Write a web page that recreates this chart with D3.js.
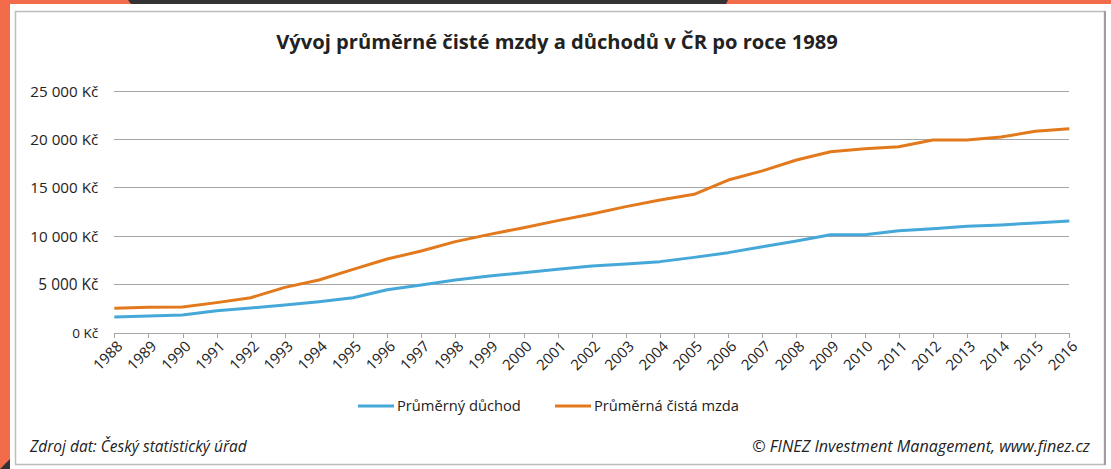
<!DOCTYPE html>
<html><head><meta charset="utf-8">
<script src="https://cdn.jsdelivr.net/npm/d3@7/dist/d3.min.js"></script>
<style>body{margin:0;background:#fff}svg{display:block}text{font-family:"Open Sans",sans-serif;fill:#222}</style>
</head><body><svg id="c" width="1111" height="469"></svg>
<script>
const years = [1988,1989,1990,1991,1992,1993,1994,1995,1996,1997,1998,1999,2000,2001,2002,2003,2004,2005,2006,2007,2008,2009,2010,2011,2012,2013,2014,2015,2016];
const pension = [1600,1710,1810,2260,2530,2840,3190,3600,4420,4910,5430,5840,6190,6530,6880,7090,7330,7770,8260,8860,9460,10120,10120,10530,10740,10980,11120,11330,11530];
const wage = [2510,2620,2640,3090,3600,4670,5430,6530,7600,8430,9400,10150,10840,11570,12260,13020,13700,14290,15770,16720,17840,18700,19010,19220,19910,19910,20220,20810,21080];
const yTicks = [0,5000,10000,15000,20000,25000];
const seriesNames = ["Průměrný důchod","Průměrná čistá mzda"];
const titleText = "Vývoj průměrné čisté mzdy a důchodů v ČR po roce 1989";
const sourceText = "Zdroj dat: Český statistický úřad";
const copyText = "© FINEZ Investment Management, www.finez.cz";

const svg = d3.select("#c");
function fit(sel, w){ sel.style("font-size","100px"); const L = sel.node().getComputedTextLength(); sel.style("font-size",(100*w/L)+"px"); return sel; }

// frame
svg.append("rect").attr("width",1111).attr("height",469).attr("fill","#F26C4C");
svg.append("path").attr("d","M128,0 L728,0 L726,4 L131,4 Z").attr("fill","#333");
svg.append("rect").attr("x",10).attr("y",4).attr("width",1101).attr("height",465).attr("fill","#fff");
svg.append("path").attr("d","M10,459 L10,469 L0,469 Z").attr("fill","#333");
svg.append("rect").attr("x",15.5).attr("y",11.5).attr("width",1089).attr("height",453).attr("fill","#fff").attr("stroke","#bdbdbd").attr("stroke-width",1.5);
svg.append("line").attr("x1",1105).attr("x2",1105).attr("y1",11).attr("y2",465).attr("stroke","#9e9e9e").attr("stroke-width",2);

const x = d3.scalePoint().domain(years).range([114.3,1069.3]);
const y = d3.scaleLinear().domain([0,25000]).range([332.5,90.8]);

// grid
const fmt = v => d3.format(",")(v).replace(/,/g," ") + " Kč";
const ga = svg.append("g").attr("transform","translate(114.3,0)")
  .call(d3.axisLeft(y).tickValues(yTicks).tickSize(-955).tickFormat(fmt).tickPadding(16));
ga.select(".domain").remove();
ga.selectAll("line").attr("stroke","#a6a6a6").attr("shape-rendering","crispEdges");
ga.selectAll("text").attr("fill","#333").attr("dy","0.35em").each(function(){ fit(d3.select(this), this.textContent.length>6 ? (this.textContent.length===9?68:60) : 26); });

// x axis
const gx = svg.append("g").attr("transform","translate(0,332.5)")
  .call(d3.axisBottom(x).tickSize(5).tickSizeOuter(0));
gx.select(".domain").attr("stroke","#a6a6a6").attr("shape-rendering","crispEdges");
gx.selectAll("line").attr("stroke","#a6a6a6").attr("shape-rendering","crispEdges");
gx.selectAll("text").attr("fill","#333").attr("text-anchor","end").attr("dy","0.35em")
  .attr("transform","translate(5,11) rotate(-45)").attr("y",0).attr("x",0)
  .each(function(){ fit(d3.select(this), 34); });

// lines
const line = d3.line().x((d,i)=>x(years[i])).y(d=>y(d));
const colors = ["#45A8D8","#E2791C"];
[pension,wage].forEach((s,k)=>{
  svg.append("path").datum(s).attr("d",line).attr("fill","none").attr("stroke",colors[k]).attr("stroke-width",3).attr("stroke-linejoin","round");
});

// title
fit(svg.append("text").attr("x",557).attr("y",49).attr("text-anchor","middle").attr("font-weight","bold").attr("fill","#111").text(titleText), 562);

// legend
const legX = [358,555], legW=[124,145];
seriesNames.forEach((n,k)=>{
  svg.append("line").attr("x1",legX[k]).attr("x2",legX[k]+36).attr("y1",406).attr("y2",406).attr("stroke",colors[k]).attr("stroke-width",3);
  fit(svg.append("text").attr("x",legX[k]+39).attr("y",406).attr("dy","0.35em").attr("fill","#333").text(n), legW[k]);
});

// footer
fit(svg.append("text").attr("x",30).attr("y",452).attr("font-style","italic").attr("fill","#222").text(sourceText), 217);
fit(svg.append("text").attr("x",1090).attr("y",452).attr("text-anchor","end").attr("font-style","italic").attr("fill","#222").text(copyText), 338);
</script></body></html>
